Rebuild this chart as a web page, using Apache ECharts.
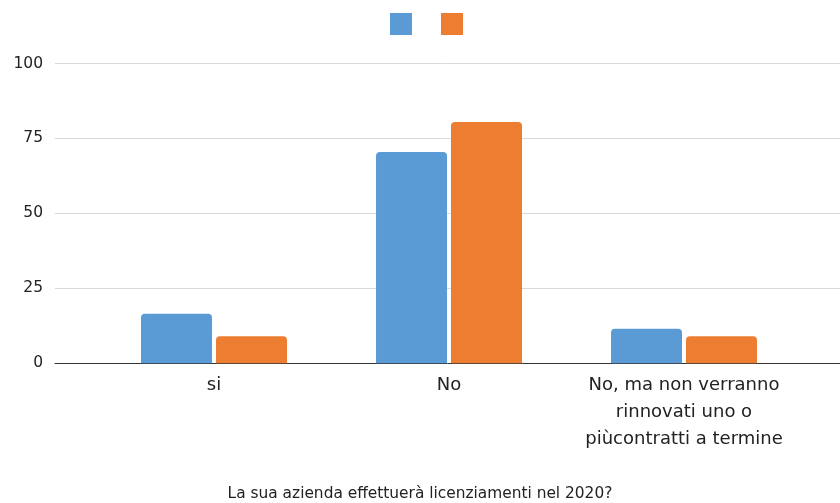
<!DOCTYPE html>
<html>
<head>
<meta charset="utf-8">
<script src="https://cdn.jsdelivr.net/npm/echarts@6/dist/echarts.min.js"></script>
<style>html,body{margin:0;padding:0;background:#fff}#c{width:840px;height:503px}</style>
</head>
<body>
<div id="c"></div>
<script>
const categories = ['si', 'No', 'No, ma non verranno\nrinnovati uno o\npiùcontratti a termine'];
const series1 = [16.5, 70.5, 11.5];
const series2 = [9, 80.5, 9];
const yTicks = [0, 25, 50, 75, 100];
const xTitle = 'La sua azienda effettuerà licenziamenti nel 2020?';

const FONT = 'DejaVu Sans';
const chart = echarts.init(document.getElementById('c'));
chart.setOption({
  animation: false,
  textStyle: { fontFamily: FONT },
  title: {
    text: xTitle, left: 'center', top: 481,
    textStyle: { fontFamily: FONT, fontSize: 15.4, fontWeight: 'normal', color: '#222' }
  },
  legend: {
    top: 8, left: 385, itemWidth: 22, itemHeight: 22, itemGap: 29,
    formatter: () => '',
    data: [{ name: 's1', icon: 'rect' }, { name: 's2', icon: 'rect' }]
  },
  grid: [
    { left: 55, right: 0, top: 63.5, bottom: 139.7 },
    { left: 96.5, right: 38.5, top: 63.5, bottom: 139.7 }
  ],
  xAxis: [
    { gridIndex: 0, type: 'value', min: 0, max: 1, axisLabel: { show: false }, axisTick: { show: false }, splitLine: { show: false },
      axisLine: { show: true, lineStyle: { color: '#333', width: 1 } } },
    { gridIndex: 1, type: 'category', data: categories, axisLine: { show: false }, axisTick: { show: false },
      axisLabel: { fontFamily: FONT, fontSize: 18, color: '#222', margin: 9, lineHeight: 27, interval: 0 } }
  ],
  yAxis: [
    { gridIndex: 0, type: 'value', min: 0, max: 100, interval: 25,
      axisLine: { show: false }, axisTick: { show: false },
      axisLabel: { fontFamily: FONT, fontSize: 15.5, color: '#222', margin: 12,
        formatter: v => yTicks.includes(v) ? String(v) : '' },
      splitLine: { lineStyle: { color: '#d9d9d9' } } },
    { gridIndex: 1, type: 'value', min: 0, max: 100, show: false, splitLine: { show: false } }
  ],
  series: [
    { name: 's1', type: 'bar', xAxisIndex: 1, yAxisIndex: 1, data: series1, barWidth: 71, barGap: '5.6%',
      itemStyle: { color: '#5B9BD5', borderRadius: [4, 4, 0, 0] } },
    { name: 's2', type: 'bar', xAxisIndex: 1, yAxisIndex: 1, data: series2, barWidth: 71, barGap: '5.6%',
      itemStyle: { color: '#ED7D31', borderRadius: [4, 4, 0, 0] } }
  ]
});
</script>
</body>
</html>
